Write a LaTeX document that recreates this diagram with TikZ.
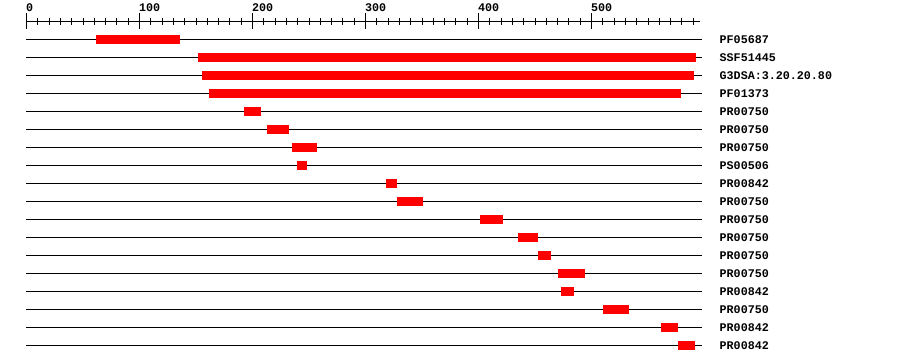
\documentclass[tikz,border=0pt]{standalone}
\usepackage{fontspec}
\newfontfamily\labfont{Liberation Mono}
\tikzset{
  rowline/.style={draw=black,line width=1pt},
  hitbar/.style={fill=red,draw=none},
  rowlabel/.style={anchor=base west,inner sep=0pt,font=\labfont\bfseries\fontsize{11.7}{12}\selectfont},
  ticklabel/.style={anchor=base west,inner sep=0pt,font=\labfont\bfseries\fontsize{11.7}{12}\selectfont},
  tickline/.style={draw=black,line width=1pt}
}
\begin{document}
\begin{tikzpicture}[x=1pt,y=-1pt]
\useasboundingbox[fill=white] (0,0) rectangle (900,364);
% ruler
\draw[tickline] (26,21.5) -- (700,21.5);
\foreach \k in {0,...,59}{
  \draw[tickline] ({26.5+11.3*\k},18) -- ({26.5+11.3*\k},25);
}
\foreach \k in {0,...,5}{
  \draw[tickline] ({26.5+113*\k},13) -- ({26.5+113*\k},29);
  \pgfmathtruncatemacro{\v}{100*\k}
  \node[ticklabel] (t\k) at ({26+113*\k},11.7) {\v};
}
% rows
\foreach \s/\e/\lab [count=\i from 0] in {
  96/180/PF05687,
  198/696/SSF51445,
  202/694/G3DSA:3.20.20.80,
  209/681/PF01373,
  244/261/PR00750,
  267/289/PR00750,
  292/317/PR00750,
  297/307/PS00506,
  386/397/PR00842,
  397/423/PR00750,
  480/503/PR00750,
  518/538/PR00750,
  538/551/PR00750,
  558/585/PR00750,
  561/574/PR00842,
  603/629/PR00750,
  661/678/PR00842,
  678/695/PR00842}{
  \draw[rowline] (26,{39.5+18*\i}) -- (701.5,{39.5+18*\i});
  \fill[hitbar] (\s,{35+18*\i}) rectangle (\e,{44+18*\i});
  \node[rowlabel] (l\i) at (719.5,{43+18*\i}) {\lab};
}
\end{tikzpicture}
\end{document}
